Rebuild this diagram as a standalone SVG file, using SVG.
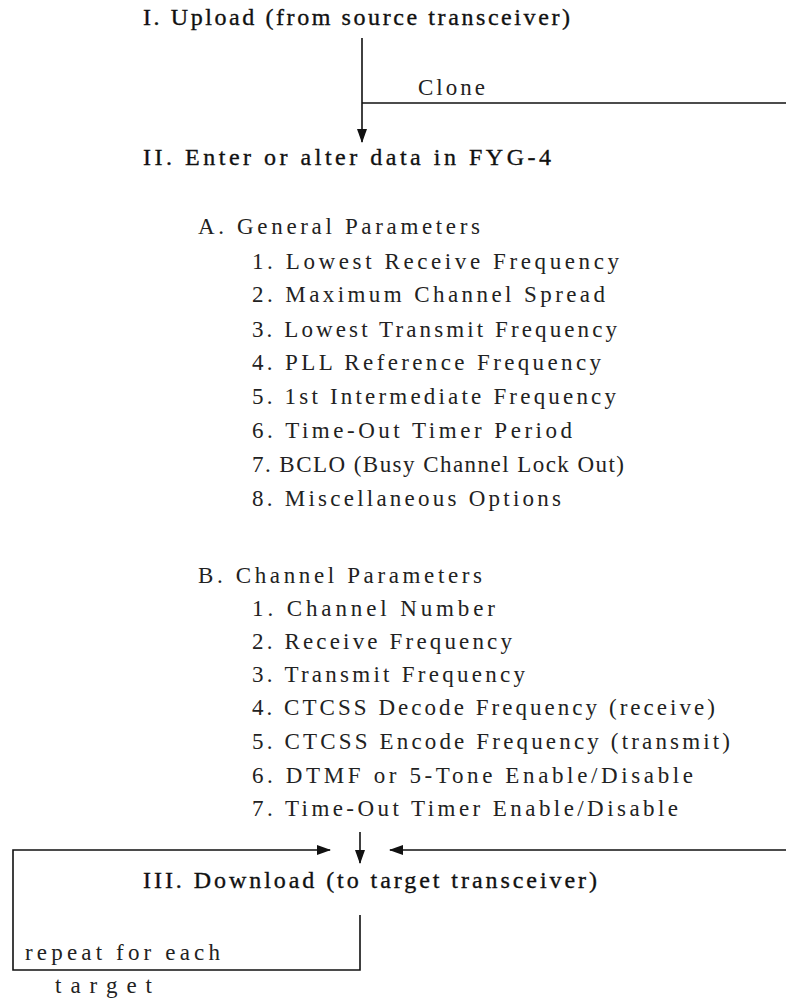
<svg xmlns="http://www.w3.org/2000/svg" width="786" height="999" viewBox="0 0 786 999">
<style>
.h{font-family:"Liberation Serif",serif;font-size:24px;fill:#111;stroke:#111;stroke-width:0.35}
.t{font-family:"Liberation Serif",serif;font-size:23px;fill:#222}
.ln{stroke:#111;stroke-width:1.6;fill:none}
</style>
<defs>
<marker id="ah" markerWidth="14" markerHeight="10" refX="13" refY="5" orient="auto" markerUnits="userSpaceOnUse">
<path d="M0,0 L14,5 L0,10 Z" fill="#111"/>
</marker>
</defs>
<g id="n1"><text class="h" x="143" y="25" textLength="427" lengthAdjust="spacing">I. Upload (from source transceiver)</text></g>
<g id="n2"><text class="h" x="143" y="165" textLength="408" lengthAdjust="spacing">II. Enter or alter data in FYG-4</text></g>
<g id="nA">
<text class="t" x="198" y="234" textLength="282" lengthAdjust="spacing">A. General Parameters</text>
<text class="t" x="252" y="269" textLength="367" lengthAdjust="spacing">1. Lowest Receive Frequency</text>
<text class="t" x="252" y="302" textLength="353" lengthAdjust="spacing">2. Maximum Channel Spread</text>
<text class="t" x="252" y="337" textLength="365" lengthAdjust="spacing">3. Lowest Transmit Frequency</text>
<text class="t" x="252" y="370" textLength="349" lengthAdjust="spacing">4. PLL Reference Frequency</text>
<text class="t" x="252" y="404" textLength="364" lengthAdjust="spacing">5. 1st Intermediate Frequency</text>
<text class="t" x="252" y="438" textLength="320" lengthAdjust="spacing">6. Time-Out Timer Period</text>
<text class="t" x="252" y="472" textLength="372" lengthAdjust="spacing">7. BCLO (Busy Channel Lock Out)</text>
<text class="t" x="252" y="506" textLength="309" lengthAdjust="spacing">8. Miscellaneous Options</text>
</g>
<g id="nB">
<text class="t" x="198" y="583" textLength="284" lengthAdjust="spacing">B. Channel Parameters</text>
<text class="t" x="252" y="616" textLength="243" lengthAdjust="spacing">1. Channel Number</text>
<text class="t" x="252" y="649" textLength="260" lengthAdjust="spacing">2. Receive Frequency</text>
<text class="t" x="252" y="682" textLength="273" lengthAdjust="spacing">3. Transmit Frequency</text>
<text class="t" x="252" y="715" textLength="463" lengthAdjust="spacing">4. CTCSS Decode Frequency (receive)</text>
<text class="t" x="252" y="749" textLength="478" lengthAdjust="spacing">5. CTCSS Encode Frequency (transmit)</text>
<text class="t" x="252" y="783" textLength="441" lengthAdjust="spacing">6. DTMF or 5-Tone Enable/Disable</text>
<text class="t" x="252" y="816" textLength="426" lengthAdjust="spacing">7. Time-Out Timer Enable/Disable</text>
</g>
<g id="n3"><text class="h" x="143" y="888" textLength="454" lengthAdjust="spacing">III. Download (to target transceiver)</text></g>
<g id="labels">
<text class="t" x="418" y="95" textLength="67" lengthAdjust="spacing">Clone</text>
<text class="t" x="25" y="960" textLength="195" lengthAdjust="spacing">repeat for each</text>
<text class="t" x="55" y="993" textLength="97" lengthAdjust="spacing">target</text>
</g>
<g id="connectors">
<line class="ln" x1="362" y1="38" x2="362" y2="142" marker-end="url(#ah)"/>
<line class="ln" x1="362" y1="103" x2="786" y2="103"/>
<line class="ln" x1="360" y1="832" x2="360" y2="863" marker-end="url(#ah)"/>
<line class="ln" x1="786" y1="850" x2="390" y2="850" marker-end="url(#ah)"/>
<polyline class="ln" points="360,915 360,970 13,970 13,850 330,850" marker-end="url(#ah)"/>
</g>
</svg>
